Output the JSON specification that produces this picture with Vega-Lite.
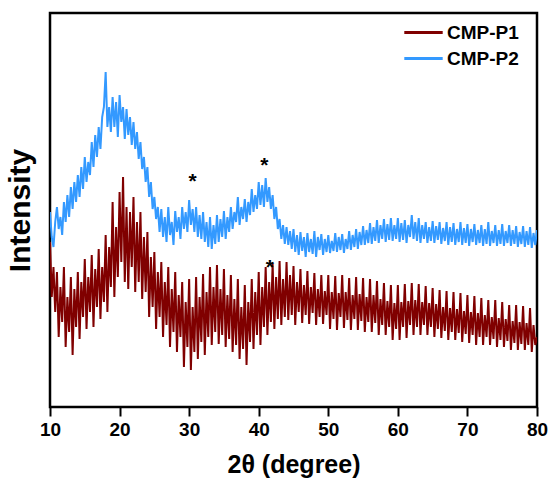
{
"$schema": "https://vega.github.io/schema/vega-lite/v6.json",
"width": 487, "height": 394,
"autosize": "none",
"padding": {"left": 50, "top": 13, "right": 12, "bottom": 78},
"background": "white",
"config": {"view": {"stroke": "black", "strokeWidth": 2.5}, "font": "Liberation Sans"},
"datasets": {
"p1": [
{"x":10,"y":165},{"x":10.25,"y":110},{"x":10.5,"y":140},{"x":10.75,"y":95},{"x":11,"y":135},{"x":11.25,"y":70},{"x":11.5,"y":120},{"x":11.75,"y":85},
{"x":12,"y":140},{"x":12.25,"y":60},{"x":12.5,"y":110},{"x":12.75,"y":75},{"x":13,"y":130},{"x":13.25,"y":52},{"x":13.5,"y":118},{"x":13.75,"y":80},
{"x":14,"y":135},{"x":14.25,"y":68},{"x":14.5,"y":125},{"x":14.75,"y":90},{"x":15,"y":148},{"x":15.25,"y":78},{"x":15.5,"y":130},{"x":15.75,"y":95},
{"x":16,"y":152},{"x":16.25,"y":80},{"x":16.5,"y":138},{"x":16.75,"y":100},{"x":17,"y":158},{"x":17.25,"y":88},{"x":17.5,"y":140},{"x":17.75,"y":105},
{"x":18,"y":172},{"x":18.25,"y":95},{"x":18.5,"y":160},{"x":18.75,"y":120},{"x":19,"y":205},{"x":19.25,"y":110},{"x":19.5,"y":180},{"x":19.75,"y":130},
{"x":20,"y":215},{"x":20.25,"y":145},{"x":20.5,"y":230},{"x":20.75,"y":125},{"x":21,"y":200},{"x":21.25,"y":118},{"x":21.5,"y":195},{"x":21.75,"y":140},
{"x":22,"y":210},{"x":22.25,"y":115},{"x":22.5,"y":185},{"x":22.75,"y":125},{"x":23,"y":195},{"x":23.25,"y":108},{"x":23.5,"y":170},{"x":23.75,"y":115},
{"x":24,"y":175},{"x":24.25,"y":90},{"x":24.5,"y":150},{"x":24.75,"y":100},{"x":25,"y":155},{"x":25.25,"y":78},{"x":25.5,"y":135},{"x":25.75,"y":90},
{"x":26,"y":145},{"x":26.25,"y":70},{"x":26.5,"y":125},{"x":26.75,"y":82},{"x":27,"y":140},{"x":27.25,"y":60},{"x":27.5,"y":118},{"x":27.75,"y":75},
{"x":28,"y":135},{"x":28.25,"y":55},{"x":28.5,"y":112},{"x":28.75,"y":70},{"x":29,"y":125},{"x":29.25,"y":40},{"x":29.5,"y":105},{"x":29.75,"y":60},
{"x":30,"y":128},{"x":30.25,"y":37},{"x":30.5,"y":100},{"x":30.75,"y":55},{"x":31,"y":130},{"x":31.25,"y":48},{"x":31.5,"y":110},{"x":31.75,"y":65},
{"x":32,"y":133},{"x":32.25,"y":52},{"x":32.5,"y":115},{"x":32.75,"y":70},{"x":33,"y":140},{"x":33.25,"y":62},{"x":33.5,"y":120},{"x":33.75,"y":75},
{"x":34,"y":142},{"x":34.25,"y":63},{"x":34.5,"y":118},{"x":34.75,"y":72},{"x":35,"y":138},{"x":35.25,"y":60},{"x":35.5,"y":112},{"x":35.75,"y":68},
{"x":36,"y":132},{"x":36.25,"y":55},{"x":36.5,"y":108},{"x":36.75,"y":62},{"x":37,"y":128},{"x":37.25,"y":48},{"x":37.5,"y":100},{"x":37.75,"y":58},
{"x":38,"y":122},{"x":38.25,"y":42},{"x":38.5,"y":105},{"x":38.75,"y":65},{"x":39,"y":128},{"x":39.25,"y":58},{"x":39.5,"y":115},{"x":39.75,"y":72},
{"x":40,"y":135},{"x":40.25,"y":62},{"x":40.5,"y":120},{"x":40.75,"y":80},{"x":41,"y":140},{"x":41.25,"y":72},{"x":41.5,"y":125},{"x":41.75,"y":85},
{"x":42,"y":143},{"x":42.25,"y":78},{"x":42.5,"y":130},{"x":42.75,"y":88},{"x":43,"y":146},{"x":43.25,"y":82},{"x":43.5,"y":128},{"x":43.75,"y":90},
{"x":44,"y":145},{"x":44.25,"y":87},{"x":44.5,"y":132},{"x":44.75,"y":92},{"x":45,"y":141},{"x":45.25,"y":82},{"x":45.5,"y":125},{"x":45.75,"y":95},
{"x":46,"y":138},{"x":46.25,"y":84},{"x":46.5,"y":122},{"x":46.75,"y":92},{"x":47,"y":136},{"x":47.25,"y":83},{"x":47.5,"y":120},{"x":47.75,"y":94},
{"x":48,"y":134},{"x":48.25,"y":82},{"x":48.5,"y":118},{"x":48.75,"y":90},{"x":49,"y":132},{"x":49.25,"y":83},{"x":49.5,"y":116},{"x":49.75,"y":92},
{"x":50,"y":132},{"x":50.25,"y":78},{"x":50.5,"y":115},{"x":50.75,"y":88},{"x":51,"y":131},{"x":51.25,"y":77},{"x":51.5,"y":114},{"x":51.75,"y":90},
{"x":52,"y":132},{"x":52.25,"y":79},{"x":52.5,"y":115},{"x":52.75,"y":87},{"x":53,"y":129},{"x":53.25,"y":77},{"x":53.5,"y":112},{"x":53.75,"y":88},
{"x":54,"y":130},{"x":54.25,"y":77},{"x":54.5,"y":113},{"x":54.75,"y":86},{"x":55,"y":129},{"x":55.25,"y":75},{"x":55.5,"y":110},{"x":55.75,"y":85},
{"x":56,"y":128},{"x":56.25,"y":75},{"x":56.5,"y":112},{"x":56.75,"y":84},{"x":57,"y":126},{"x":57.25,"y":72},{"x":57.5,"y":108},{"x":57.75,"y":82},
{"x":58,"y":124},{"x":58.25,"y":72},{"x":58.5,"y":106},{"x":58.75,"y":80},{"x":59,"y":122},{"x":59.25,"y":67},{"x":59.5,"y":104},{"x":59.75,"y":78},
{"x":60,"y":122},{"x":60.25,"y":67},{"x":60.5,"y":105},{"x":60.75,"y":80},{"x":61,"y":123},{"x":61.25,"y":69},{"x":61.5,"y":106},{"x":61.75,"y":82},
{"x":62,"y":124},{"x":62.25,"y":72},{"x":62.5,"y":107},{"x":62.75,"y":80},{"x":63,"y":123},{"x":63.25,"y":72},{"x":63.5,"y":105},{"x":63.75,"y":82},
{"x":64,"y":121},{"x":64.25,"y":72},{"x":64.5,"y":104},{"x":64.75,"y":80},{"x":65,"y":119},{"x":65.25,"y":70},{"x":65.5,"y":103},{"x":65.75,"y":78},
{"x":66,"y":117},{"x":66.25,"y":69},{"x":66.5,"y":100},{"x":66.75,"y":76},{"x":67,"y":116},{"x":67.25,"y":67},{"x":67.5,"y":99},{"x":67.75,"y":75},
{"x":68,"y":115},{"x":68.25,"y":67},{"x":68.5,"y":98},{"x":68.75,"y":74},{"x":69,"y":114},{"x":69.25,"y":65},{"x":69.5,"y":96},{"x":69.75,"y":73},
{"x":70,"y":112},{"x":70.25,"y":64},{"x":70.5,"y":95},{"x":70.75,"y":72},{"x":71,"y":111},{"x":71.25,"y":62},{"x":71.5,"y":94},{"x":71.75,"y":70},
{"x":72,"y":109},{"x":72.25,"y":62},{"x":72.5,"y":92},{"x":72.75,"y":70},{"x":73,"y":107},{"x":73.25,"y":62},{"x":73.5,"y":90},{"x":73.75,"y":68},
{"x":74,"y":107},{"x":74.25,"y":60},{"x":74.5,"y":89},{"x":74.75,"y":67},{"x":75,"y":105},{"x":75.25,"y":60},{"x":75.5,"y":88},{"x":75.75,"y":66},
{"x":76,"y":102},{"x":76.25,"y":57},{"x":76.5,"y":86},{"x":76.75,"y":64},{"x":77,"y":102},{"x":77.25,"y":57},{"x":77.5,"y":85},{"x":77.75,"y":63},
{"x":78,"y":101},{"x":78.25,"y":57},{"x":78.5,"y":84},{"x":78.75,"y":62},{"x":79,"y":99},{"x":79.25,"y":55},{"x":79.5,"y":82},{"x":79.75,"y":62},
{"x":80,"y":70}
],
"p2": [
{"x":10,"y":195},{"x":10.25,"y":170},{"x":10.5,"y":160},{"x":10.75,"y":185},{"x":11,"y":200},{"x":11.25,"y":178},{"x":11.5,"y":190},{"x":11.75,"y":172},
{"x":12,"y":205},{"x":12.25,"y":185},{"x":12.5,"y":212},{"x":12.75,"y":190},{"x":13,"y":220},{"x":13.25,"y":198},{"x":13.5,"y":225},{"x":13.75,"y":205},
{"x":14,"y":232},{"x":14.25,"y":210},{"x":14.5,"y":240},{"x":14.75,"y":218},{"x":15,"y":250},{"x":15.25,"y":225},{"x":15.5,"y":245},{"x":15.75,"y":232},
{"x":16,"y":265},{"x":16.25,"y":240},{"x":16.5,"y":272},{"x":16.75,"y":250},{"x":17,"y":280},{"x":17.25,"y":258},{"x":17.5,"y":290},{"x":17.75,"y":300},
{"x":18,"y":335},{"x":18.25,"y":280},{"x":18.5,"y":300},{"x":18.75,"y":275},{"x":19,"y":310},{"x":19.25,"y":280},{"x":19.5,"y":305},{"x":19.75,"y":270},
{"x":20,"y":312},{"x":20.25,"y":285},{"x":20.5,"y":300},{"x":20.75,"y":268},{"x":21,"y":298},{"x":21.25,"y":272},{"x":21.5,"y":290},{"x":21.75,"y":262},
{"x":22,"y":285},{"x":22.25,"y":258},{"x":22.5,"y":275},{"x":22.75,"y":248},{"x":23,"y":265},{"x":23.25,"y":238},{"x":23.5,"y":250},{"x":23.75,"y":225},
{"x":24,"y":240},{"x":24.25,"y":210},{"x":24.5,"y":225},{"x":24.75,"y":198},{"x":25,"y":210},{"x":25.25,"y":188},{"x":25.5,"y":200},{"x":25.75,"y":175},
{"x":26,"y":198},{"x":26.25,"y":170},{"x":26.5,"y":190},{"x":26.75,"y":165},{"x":27,"y":200},{"x":27.25,"y":172},{"x":27.5,"y":185},{"x":27.75,"y":162},
{"x":28,"y":196},{"x":28.25,"y":175},{"x":28.5,"y":190},{"x":28.75,"y":168},{"x":29,"y":200},{"x":29.25,"y":178},{"x":29.5,"y":195},{"x":29.75,"y":175},
{"x":30,"y":207},{"x":30.25,"y":182},{"x":30.5,"y":198},{"x":30.75,"y":175},{"x":31,"y":200},{"x":31.25,"y":170},{"x":31.5,"y":192},{"x":31.75,"y":168},
{"x":32,"y":195},{"x":32.25,"y":165},{"x":32.5,"y":185},{"x":32.75,"y":160},{"x":33,"y":190},{"x":33.25,"y":158},{"x":33.5,"y":182},{"x":33.75,"y":163},
{"x":34,"y":192},{"x":34.25,"y":165},{"x":34.5,"y":188},{"x":34.75,"y":170},{"x":35,"y":196},{"x":35.25,"y":168},{"x":35.5,"y":190},{"x":35.75,"y":175},
{"x":36,"y":200},{"x":36.25,"y":178},{"x":36.5,"y":195},{"x":36.75,"y":185},{"x":37,"y":210},{"x":37.25,"y":182},{"x":37.5,"y":200},{"x":37.75,"y":188},
{"x":38,"y":208},{"x":38.25,"y":185},{"x":38.5,"y":205},{"x":38.75,"y":192},{"x":39,"y":218},{"x":39.25,"y":195},{"x":39.5,"y":212},{"x":39.75,"y":198},
{"x":40,"y":225},{"x":40.25,"y":202},{"x":40.5,"y":222},{"x":40.75,"y":200},{"x":41,"y":229},{"x":41.25,"y":205},{"x":41.5,"y":220},{"x":41.75,"y":198},
{"x":42,"y":212},{"x":42.25,"y":188},{"x":42.5,"y":200},{"x":42.75,"y":178},{"x":43,"y":188},{"x":43.25,"y":168},{"x":43.5,"y":182},{"x":43.75,"y":163},
{"x":44,"y":180},{"x":44.25,"y":162},{"x":44.5,"y":176},{"x":44.75,"y":158},{"x":45,"y":178},{"x":45.25,"y":155},{"x":45.5,"y":172},{"x":45.75,"y":152},
{"x":46,"y":175},{"x":46.25,"y":156},{"x":46.5,"y":170},{"x":46.75,"y":150},{"x":47,"y":174},{"x":47.25,"y":155},{"x":47.5,"y":168},{"x":47.75,"y":153},
{"x":48,"y":176},{"x":48.25,"y":150},{"x":48.5,"y":170},{"x":48.75,"y":157},{"x":49,"y":173},{"x":49.25,"y":152},{"x":49.5,"y":168},{"x":49.75,"y":155},
{"x":50,"y":172},{"x":50.25,"y":154},{"x":50.5,"y":166},{"x":50.75,"y":156},{"x":51,"y":174},{"x":51.25,"y":155},{"x":51.5,"y":170},{"x":51.75,"y":157},
{"x":52,"y":173},{"x":52.25,"y":154},{"x":52.5,"y":168},{"x":52.75,"y":158},{"x":53,"y":176},{"x":53.25,"y":157},{"x":53.5,"y":172},{"x":53.75,"y":160},
{"x":54,"y":178},{"x":54.25,"y":158},{"x":54.5,"y":175},{"x":54.75,"y":162},{"x":55,"y":181},{"x":55.25,"y":162},{"x":55.5,"y":177},{"x":55.75,"y":164},
{"x":56,"y":184},{"x":56.25,"y":163},{"x":56.5,"y":180},{"x":56.75,"y":166},{"x":57,"y":187},{"x":57.25,"y":164},{"x":57.5,"y":182},{"x":57.75,"y":168},
{"x":58,"y":188},{"x":58.25,"y":165},{"x":58.5,"y":183},{"x":58.75,"y":167},{"x":59,"y":189},{"x":59.25,"y":166},{"x":59.5,"y":182},{"x":59.75,"y":168},
{"x":60,"y":189},{"x":60.25,"y":165},{"x":60.5,"y":184},{"x":60.75,"y":167},{"x":61,"y":187},{"x":61.25,"y":164},{"x":61.5,"y":182},{"x":61.75,"y":170},
{"x":62,"y":192},{"x":62.25,"y":168},{"x":62.5,"y":185},{"x":62.75,"y":166},{"x":63,"y":189},{"x":63.25,"y":164},{"x":63.5,"y":182},{"x":63.75,"y":168},
{"x":64,"y":185},{"x":64.25,"y":164},{"x":64.5,"y":180},{"x":64.75,"y":166},{"x":65,"y":186},{"x":65.25,"y":164},{"x":65.5,"y":181},{"x":65.75,"y":167},
{"x":66,"y":185},{"x":66.25,"y":163},{"x":66.5,"y":179},{"x":66.75,"y":166},{"x":67,"y":185},{"x":67.25,"y":162},{"x":67.5,"y":180},{"x":67.75,"y":165},
{"x":68,"y":184},{"x":68.25,"y":162},{"x":68.5,"y":178},{"x":68.75,"y":165},{"x":69,"y":185},{"x":69.25,"y":162},{"x":69.5,"y":179},{"x":69.75,"y":164},
{"x":70,"y":183},{"x":70.25,"y":161},{"x":70.5,"y":178},{"x":70.75,"y":165},{"x":71,"y":183},{"x":71.25,"y":162},{"x":71.5,"y":177},{"x":71.75,"y":164},
{"x":72,"y":182},{"x":72.25,"y":161},{"x":72.5,"y":178},{"x":72.75,"y":163},{"x":73,"y":185},{"x":73.25,"y":161},{"x":73.5,"y":176},{"x":73.75,"y":164},
{"x":74,"y":182},{"x":74.25,"y":161},{"x":74.5,"y":177},{"x":74.75,"y":163},{"x":75,"y":183},{"x":75.25,"y":161},{"x":75.5,"y":176},{"x":75.75,"y":164},
{"x":76,"y":182},{"x":76.25,"y":161},{"x":76.5,"y":177},{"x":76.75,"y":163},{"x":77,"y":181},{"x":77.25,"y":160},{"x":77.5,"y":175},{"x":77.75,"y":163},
{"x":78,"y":181},{"x":78.25,"y":160},{"x":78.5,"y":176},{"x":78.75,"y":162},{"x":79,"y":180},{"x":79.25,"y":159},{"x":79.5,"y":174},{"x":79.75,"y":162},
{"x":80,"y":177}
],
"stars": [{"x":30.5,"y":219},{"x":40.8,"y":235},{"x":41.6,"y":133}]
},
"layer": [
{
"data": {"name": "p1"},
"mark": {"type": "line", "strokeWidth": 2, "clip": true},
"encoding": {
"x": {"field": "x", "type": "quantitative", "scale": {"domain": [10, 80], "nice": false},
"axis": {"values": [10,15,20,25,30,35,40,45,50,55,60,65,70,75,80], "labelExpr": "datum.value % 10 === 0 ? datum.label : ''",
"tickSize": {"condition": {"test": "datum.value % 10 === 0", "value": 9}, "value": 5},
"tickWidth": 2, "tickColor": "black", "domain": false, "grid": false, "labelOverlap": false, "labelFlush": false,
"labelFontSize": 19, "labelFontWeight": "bold", "labelColor": "black", "labelPadding": 4,
"title": "2θ (degree)", "titleFontSize": 25, "titleFontWeight": "bold", "titleColor": "black", "titlePadding": 13}},
"y": {"field": "y", "type": "quantitative", "scale": {"domain": [0, 394], "nice": false},
"axis": {"labels": false, "ticks": false, "domain": false, "grid": false,
"title": "Intensity", "titleFontSize": 30, "titleFontWeight": "bold", "titleColor": "black", "titlePadding": 15}},
"color": {"datum": "CMP-P1", "type": "nominal", "scale": {"domain": ["CMP-P1", "CMP-P2"], "range": ["#800000", "#3399ff"]},
"legend": {"orient": "none", "legendX": 360, "legendY": 6, "title": null, "symbolType": "M-1.6,0H1.6", "symbolSize": 576, "symbolStrokeWidth": 3,
"labelFontSize": 19, "labelFontWeight": "bold", "labelColor": "black", "rowPadding": 2, "labelOffset": 10}}
}
},
{
"data": {"name": "p2"},
"mark": {"type": "line", "strokeWidth": 2, "clip": true},
"encoding": {
"x": {"field": "x", "type": "quantitative"},
"y": {"field": "y", "type": "quantitative"},
"color": {"datum": "CMP-P2", "type": "nominal"}
}
},
{
"data": {"name": "stars"},
"mark": {"type": "text", "text": "*", "fontSize": 21, "fontWeight": "bold", "color": "black", "baseline": "alphabetic"},
"encoding": {
"x": {"field": "x", "type": "quantitative"},
"y": {"field": "y", "type": "quantitative"}
}
}
]
}
